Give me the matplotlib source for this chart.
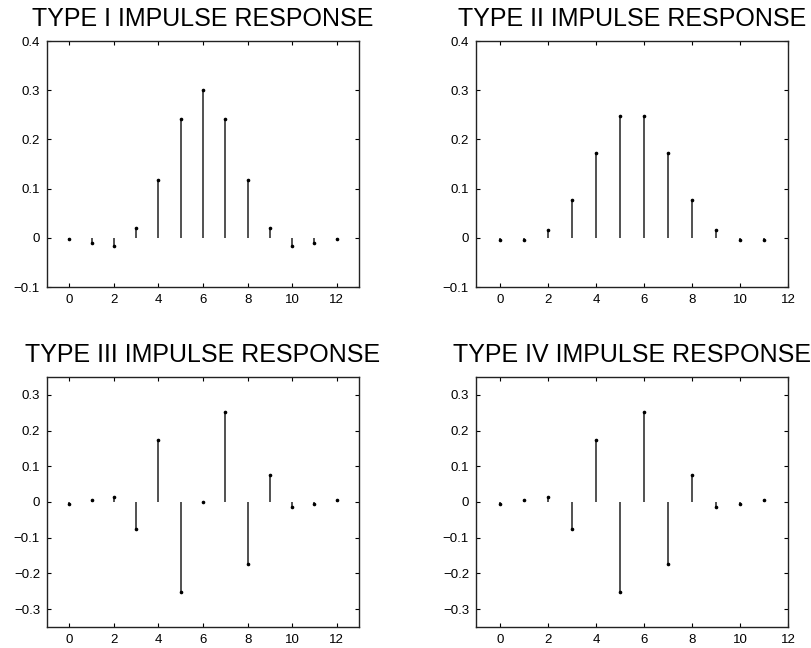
import matplotlib
matplotlib.use("Agg")
import matplotlib.pyplot as plt
import numpy as np

plt.rcParams['font.family'] = ['Liberation Sans', 'DejaVu Sans']

titles = ["TYPE I IMPULSE RESPONSE", "TYPE II IMPULSE RESPONSE",
          "TYPE III IMPULSE RESPONSE", "TYPE IV IMPULSE RESPONSE"]

h1 = [-0.002, -0.010, -0.016, 0.020, 0.117, 0.241, 0.300, 0.241, 0.117, 0.020, -0.016, -0.010, -0.002]
h2 = [-0.004, -0.004, 0.015, 0.076, 0.172, 0.248, 0.248, 0.172, 0.076, 0.015, -0.004, -0.004]
h3 = [-0.005, 0.005, 0.014, -0.075, 0.174, -0.252, 0.000, 0.253, -0.174, 0.076, -0.014, -0.005, 0.005]
h4 = [-0.005, 0.005, 0.014, -0.075, 0.174, -0.252, 0.253, -0.174, 0.076, -0.014, -0.005, 0.005]
series = [h1, h2, h3, h4]

xticks = [0, 2, 4, 6, 8, 10, 12]
yticks_top = [-0.1, 0, 0.1, 0.2, 0.3, 0.4]
ylabels_top = ["\u22120.1", "0", "0.1", "0.2", "0.3", "0.4"]
yticks_bot = [-0.3, -0.2, -0.1, 0, 0.1, 0.2, 0.3]
ylabels_bot = ["\u22120.3", "\u22120.2", "\u22120.1", "0", "0.1", "0.2", "0.3"]

W, H = 812, 648
fig = plt.figure(figsize=(W / 100, H / 100), dpi=100)

# axes rectangles in pixels: left, top, right, bottom
rects = [(47, 41, 359, 287), (476, 41, 788, 287),
         (47, 377, 359, 627), (476, 377, 788, 627)]
xlims = [(-1, 13), (-1, 12), (-1, 13), (-1, 12)]
ylims = [(-0.1, 0.4), (-0.1, 0.4), (-0.35, 0.35), (-0.35, 0.35)]

for i, (h, (l, t, r, b)) in enumerate(zip(series, rects)):
    ax = fig.add_axes([l / W, 1 - b / H, (r - l) / W, (b - t) / H])
    n = np.arange(len(h))
    ax.vlines(n, 0, h, color='#222222', linewidth=1.1)
    ax.plot(n, h, linestyle='none', marker='o', markersize=1.6, color='black')
    ax.set_xlim(*xlims[i])
    ax.set_ylim(*ylims[i])
    ax.set_xticks(xticks)
    ax.set_xticklabels([str(x) for x in xticks])
    if i < 2:
        ax.set_yticks(yticks_top)
        ax.set_yticklabels(ylabels_top)
    else:
        ax.set_yticks(yticks_bot)
        ax.set_yticklabels(ylabels_bot)
    ax.tick_params(direction='in', top=True, right=True, length=3, width=0.8,
                   labelsize=9.5, pad=5)
    for sp in ax.spines.values():
        sp.set_linewidth(1.0)
        sp.set_color('#222222')
    ax.set_title(titles[i], fontsize=18, pad=11)

fig.savefig("out.png", dpi=100)
